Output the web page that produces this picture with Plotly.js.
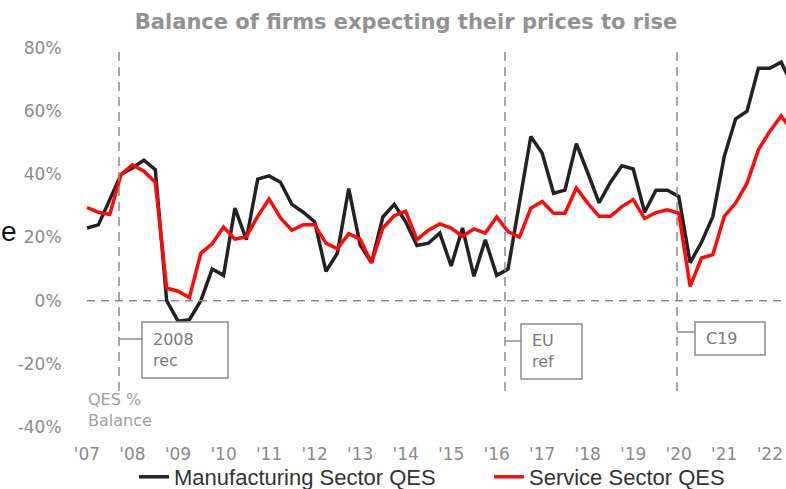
<!DOCTYPE html>
<html>
<head>
<meta charset="utf-8">
<script src="https://cdn.plot.ly/plotly-3.0.1.min.js"></script>
<style>html,body{margin:0;padding:0;background:#fff;}#chart{width:786px;height:489px;}</style>
</head>
<body>
<div id="chart"></div>
<script>
// Quarterly categories 2007 Q1 .. 2022 Q3
const quarters = [];
for (let y = 2007; y <= 2022; y++) { for (let q = 1; q <= 4; q++) { quarters.push(y + " Q" + q); } }
const categories = quarters.slice(0, 63);

const manufacturing = [23, 24, 32, 40, 42, 44.5, 41.5, 0, -6.5, -6, 0, 10, 8, 29.3, 19.3, 38.5,
  39.5, 37.5, 30.5, 28, 25, 9.3, 15, 35.5, 17.7, 12, 26.5, 30.5, 25, 17.5, 18.2, 21.4,
  11, 23, 7.7, 19.3, 8, 10, 31, 52, 46.7, 34, 35, 49.7, 40.5, 31, 37.5, 42.7,
  41.7, 28, 35, 35, 33, 12, 18.5, 26.7, 45.7, 57.6, 60, 73.6, 73.6, 75.5, 68];

const services = [29.5, 28, 27.3, 40, 43, 41, 37.5, 4, 3, 1, 15, 18, 23.3, 19.5, 20.2, 26.7,
  32.2, 26.2, 22.3, 24, 24, 18.2, 16.4, 21.2, 19.5, 12, 23, 26.9, 28.3, 19.3, 22.3, 24.3,
  23, 20.4, 22.7, 21.4, 26.5, 21.9, 20.1, 29.3, 31.4, 27.7, 27.7, 35.7, 30.9, 26.7, 26.7, 29.8,
  32, 26, 27.9, 28.8, 27.7, 4.5, 13.5, 14.6, 26.7, 30.9, 37.2, 47.8, 53.6, 58.5, 53.5];

const tickQuarters = ["2007 Q1","2008 Q1","2009 Q1","2010 Q1","2011 Q1","2012 Q1","2013 Q1","2014 Q1",
  "2015 Q1","2016 Q1","2017 Q1","2018 Q1","2019 Q1","2020 Q1","2021 Q1","2022 Q1"];
const tickLabels = ["'07","'08","'09","'10","'11","'12","'13","'14","'15","'16","'17","'18","'19","'20","'21","'22"];
const yTickVals = [-40, -20, 0, 20, 40, 60, 80];
const yTickText = ["-40%", "-20%", "0%", "20%", "40%", "60%", "80%"];

const seriesNames = ["Manufacturing Sector QES", "Service Sector QES"];
const eventLabels = ["2008<br>rec", "EU<br>ref", "C19"];

// layout geometry (pixels)
const W = 786, H = 489, ML = 70, MR = 0, MT = 48, MB = 62;
const PW = W - ML - MR, PH = H - MT - MB;
const px = p => (p - ML) / PW;
const py = p => (H - MB - p) / PH;

const GREY = "#8a8a8a";
const FONT = "DejaVu Sans, Open Sans, sans-serif";

const traces = [
  { x: categories, y: manufacturing, name: seriesNames[0], type: "scatter", mode: "lines",
    line: { color: "#222222", width: 3.5 } },
  { x: categories, y: services, name: seriesNames[1], type: "scatter", mode: "lines",
    line: { color: "#ff0a0a", width: 3.5 } }
];

function vline(p) {
  return { type: "line", xref: "paper", yref: "paper", x0: px(p), x1: px(p), y0: py(52), y1: py(392),
    line: { color: GREY, width: 1.5, dash: "9px,6px" } };
}
function seg(x0, x1, y) {
  return { type: "line", xref: "paper", yref: "paper", x0: px(x0), x1: px(x1), y0: py(y), y1: py(y),
    line: { color: GREY, width: 1.5 } };
}
function box(x0, x1, y0, y1) {
  return { type: "rect", xref: "paper", yref: "paper", x0: px(x0), x1: px(x1), y0: py(y0), y1: py(y1),
    line: { color: GREY, width: 1.5 }, fillcolor: "rgba(255,255,255,1)" };
}

const shapes = [
  { type: "line", xref: "paper", yref: "y", x0: px(87), x1: 1, y0: 0, y1: 0,
    line: { color: GREY, width: 1.5, dash: "8px,6px" } },
  vline(119), vline(505), vline(677),
  seg(119, 142, 339), seg(505, 521, 341), seg(677, 695, 332),
  box(142, 228, 322, 378), box(521, 582, 324, 379), box(695, 765, 322, 355)
];

function label(text, x, ymid) {
  return { xref: "paper", yref: "paper", x: px(x), y: py(ymid), xanchor: "left", yanchor: "middle",
    text: text, showarrow: false, align: "left", font: { family: FONT, size: 16, color: "#7a7a7a" } };
}

const annotations = [
  label(eventLabels[0], 151, 350),
  label(eventLabels[1], 530, 351),
  label(eventLabels[2], 704, 338),
  { xref: "paper", yref: "paper", x: px(86), y: py(410), xanchor: "left", yanchor: "middle",
    text: "QES %<br>Balance", showarrow: false, align: "left",
    font: { family: FONT, size: 16, color: "#9e9e9e" } },
  { xref: "paper", yref: "paper", x: px(-1), y: py(232), xanchor: "left", yanchor: "middle",
    text: "e", showarrow: false, font: { family: "Liberation Sans, Arial, sans-serif", size: 28, color: "#111" } }
];

const layout = {
  width: W, height: H,
  margin: { l: ML, r: MR, t: MT, b: MB, pad: 0, autoexpand: false },
  paper_bgcolor: "#ffffff", plot_bgcolor: "#ffffff",
  showlegend: true,
  title: { text: "Balance of firms expecting their prices to rise", xref: "paper", x: px(406), xanchor: "center",
    yref: "container", y: 1 - 22 / H, yanchor: "middle",
    font: { family: FONT, size: 21, color: "#929292", weight: 600 } },
  xaxis: {
    type: "category", range: [-(87 - ML) / 11.38, (W - 87) / 11.38],
    tickmode: "array", tickvals: tickQuarters, ticktext: tickLabels,
    showgrid: false, zeroline: false, showline: false,
    ticks: "outside", ticklen: 12, tickcolor: "rgba(0,0,0,0)",
    tickfont: { family: FONT, size: 17, color: GREY }
  },
  yaxis: {
    range: [-40, 80], tickmode: "array", tickvals: yTickVals, ticktext: yTickText,
    showgrid: false, zeroline: false, showline: false,
    ticks: "outside", ticklen: 4, tickcolor: "rgba(0,0,0,0)",
    tickfont: { family: FONT, size: 17, color: GREY }
  },
  legend: { orientation: "h", xref: "paper", yref: "paper", x: px(489), xanchor: "center", y: py(477), yanchor: "middle",
    font: { family: "Liberation Sans, Arial, sans-serif", size: 22, color: "#333" },
    entrywidthmode: "pixels", entrywidth: 310,
    itemwidth: 30, bgcolor: "rgba(0,0,0,0)", traceorder: "normal" },
  shapes: shapes,
  annotations: annotations
};

Plotly.newPlot("chart", traces, layout, { displayModeBar: false, staticPlot: true });
</script>
</body>
</html>
